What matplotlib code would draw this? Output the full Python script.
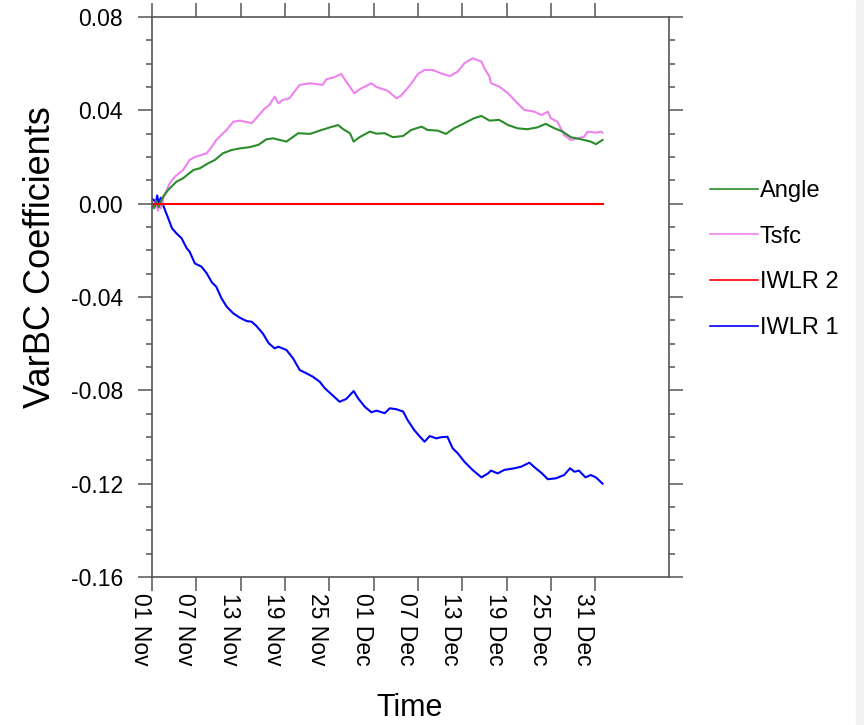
import numpy as np
import pandas as pd
import matplotlib
matplotlib.use("Agg")
import matplotlib.pyplot as plt
from matplotlib.lines import Line2D
from matplotlib.patches import Rectangle
from matplotlib.ticker import MultipleLocator, FormatStrFormatter

# ---------------- data (days since 01 Nov, coefficient value) ----------------
start_date = "2015-11-01"

angle_day = [0, 0.3, 0.6, 0.9, 1.2, 1.5, 2.2, 3.3, 4.2, 5.6, 6.5, 7.6, 8.5, 9.6, 10.8,
             11.9, 13.2, 14.4, 15.5, 16.4, 18.2, 19.8, 21.4, 22.7, 24.1, 25.2, 25.9,
             26.8, 27.3, 28.1, 29.5, 30.4, 31.5, 32.6, 34.0, 35.1, 36.5, 37.3, 38.7,
             39.8, 40.9, 42.3, 43.6, 44.6, 45.7, 47.0, 48.2, 49.5, 50.8, 52.2, 53.3,
             54.5, 55.6, 56.7, 58.1, 59.4, 60.1, 61.0]
angle_val = [0.0, -0.002, 0.001, -0.0015, 0.001, 0.003, 0.0059, 0.0094, 0.0109, 0.0144,
             0.0152, 0.0173, 0.0187, 0.0216, 0.0230, 0.0237, 0.0242, 0.0252, 0.0276,
             0.0280, 0.0266, 0.0302, 0.0299, 0.0313, 0.0327, 0.0337, 0.0319, 0.0302,
             0.0266, 0.0285, 0.0309, 0.0300, 0.0302, 0.0285, 0.0290, 0.0316, 0.0330,
             0.0316, 0.0313, 0.0299, 0.0323, 0.0345, 0.0366, 0.0376, 0.0356, 0.0359,
             0.0337, 0.0323, 0.0319, 0.0327, 0.0342, 0.0323, 0.0309, 0.0285, 0.0276,
             0.0266, 0.0255, 0.0273]

tsfc_day = [0, 0.3, 0.5, 0.8, 1.0, 1.2, 1.5, 1.8, 2.4, 3.1, 4.2, 5.1, 5.8, 7.4, 8.1, 8.7,
            10.1, 11.0, 11.9, 13.5, 14.1, 15.3, 15.9, 16.6, 17.1, 17.7, 18.6, 19.1, 20.0,
            21.4, 23.1, 23.6, 24.7, 25.6, 26.3, 27.4, 28.1, 29.7, 30.4, 31.9, 33.1, 33.7,
            34.6, 35.3, 36.0, 36.9, 38.0, 39.1, 40.3, 41.4, 42.3, 43.4, 44.6, 45.0, 45.7,
            45.9, 47.0, 48.2, 49.5, 50.4, 51.8, 52.7, 53.6, 54.0, 54.9, 55.8, 56.7, 57.6,
            58.5, 59.0, 60.1, 60.8, 61.0]
tsfc_val = [0.0, -0.0015, 0.001, -0.003, 0.0, -0.002, 0.002, 0.0045, 0.0087, 0.0116,
            0.0144, 0.0187, 0.0200, 0.0216, 0.0244, 0.0273, 0.0316, 0.0351, 0.0356,
            0.0345, 0.0366, 0.0409, 0.0423, 0.0459, 0.0430, 0.0444, 0.0452, 0.0473,
            0.0509, 0.0516, 0.0509, 0.0533, 0.0542, 0.0556, 0.0523, 0.0473, 0.0490,
            0.0516, 0.0500, 0.0484, 0.0452, 0.0462, 0.0495, 0.0523, 0.0556, 0.0573,
            0.0573, 0.0559, 0.0547, 0.0566, 0.0602, 0.0623, 0.0609, 0.0580, 0.0544,
            0.0516, 0.0502, 0.0473, 0.0430, 0.0402, 0.0394, 0.0380, 0.0394, 0.0366,
            0.0351, 0.0294, 0.0273, 0.0280, 0.0287, 0.0309, 0.0304, 0.0309, 0.0304]

iwlr2_day = [0, 61.0]
iwlr2_val = [0.0, 0.0]

iwlr1_day = [0, 0.3, 0.5, 0.7, 0.9, 1.2, 1.5, 2.2, 2.7, 3.3, 4.0, 4.7, 5.1, 5.8, 6.7, 7.4,
             8.1, 8.7, 9.4, 10.1, 11.0, 11.9, 12.8, 13.5, 14.1, 15.0, 15.8, 16.6, 17.1,
             18.2, 19.1, 20.0, 20.9, 21.8, 22.7, 23.4, 24.3, 25.4, 26.3, 27.3, 27.9, 28.8,
             29.7, 30.4, 31.5, 32.2, 33.1, 34.0, 34.6, 35.5, 36.2, 36.9, 37.6, 38.5, 39.1,
             40.0, 40.7, 41.4, 42.3, 43.4, 44.6, 45.5, 45.9, 46.8, 47.7, 49.1, 50.0, 51.1,
             51.8, 52.7, 53.6, 54.7, 55.8, 56.6, 57.2, 57.8, 58.7, 59.4, 60.1, 61.0]
iwlr1_val = [0.002, 0.0015, -0.0005, 0.0035, 0.0005, 0.0025, -0.0006, -0.0063, -0.0105,
             -0.0127, -0.0148, -0.0191, -0.0206, -0.0256, -0.0270, -0.0298, -0.0337,
             -0.0356, -0.0405, -0.0441, -0.0470, -0.0489, -0.0503, -0.0506, -0.0523,
             -0.0556, -0.0598, -0.0620, -0.0613, -0.0627, -0.0663, -0.0713, -0.0727,
             -0.0742, -0.0763, -0.0791, -0.0817, -0.0849, -0.0837, -0.0803, -0.0834,
             -0.0870, -0.0894, -0.0887, -0.0898, -0.0877, -0.0881, -0.0891, -0.0927,
             -0.0970, -0.0996, -0.1020, -0.0996, -0.1006, -0.1001, -0.0999, -0.1048,
             -0.1070, -0.1106, -0.1141, -0.1173, -0.1156, -0.1144, -0.1156, -0.1141,
             -0.1134, -0.1127, -0.1110, -0.1130, -0.1153, -0.1181, -0.1177, -0.1163,
             -0.1134, -0.1149, -0.1144, -0.1173, -0.1163, -0.1173, -0.1200]

tick_days = [0, 6, 12, 18, 24, 30, 36, 42, 48, 54, 60]
tick_labels = ["01 Nov", "07 Nov", "13 Nov", "19 Nov", "25 Nov", "01 Dec",
               "07 Dec", "13 Dec", "19 Dec", "25 Dec", "31 Dec"]
x_span_days = 70

series_names = ["Angle", "Tsfc", "IWLR 2", "IWLR 1"]
series_colors = ["#2a8c2a", "#ee82ee", "#ff0000", "#0000ff"]

# ---------------- drawing ----------------
plt.rcParams["font.family"] = ["Liberation Sans", "DejaVu Sans"]

base = pd.Timestamp(start_date)


def to_dates(days):
    return base + pd.to_timedelta(np.asarray(days, dtype=float), unit="D")


fig = plt.figure(figsize=(8.64, 7.25), dpi=100)
W, H = 864.0, 725.0
ax = fig.add_axes([152 / W, 1 - 577 / H, (669 - 152) / W, (577 - 17) / H])

lw = 1.5
ax.plot(to_dates(iwlr1_day), iwlr1_val, color=series_colors[3], lw=lw)
ax.plot(to_dates(tsfc_day), tsfc_val, color=series_colors[1], lw=lw)
ax.plot(to_dates(angle_day), angle_val, color=series_colors[0], lw=lw)
ax.plot(to_dates(iwlr2_day), iwlr2_val, color=series_colors[2], lw=lw)

ax.set_xlim(to_dates([0])[0], to_dates([x_span_days])[0])
ax.set_ylim(-0.16, 0.08)

ax.yaxis.set_major_locator(MultipleLocator(0.04))
ax.yaxis.set_minor_locator(MultipleLocator(0.01))
ax.yaxis.set_major_formatter(FormatStrFormatter("%.2f"))

ax.set_xticks(to_dates(tick_days))
ax.set_xticklabels(tick_labels, rotation=270, ha="right", va="top")
ax.xaxis.set_minor_locator(matplotlib.ticker.NullLocator())

axis_col = "#555555"
for sp in ax.spines.values():
    sp.set_color(axis_col)
    sp.set_linewidth(1.2)

ax.tick_params(axis="both", which="both", direction="out", top=True, right=True,
               color=axis_col, width=1.1, labelsize=16.5)
ax.tick_params(axis="both", which="major", length=10)
ax.tick_params(axis="y", which="minor", length=4.5)
ax.tick_params(axis="y", which="major", pad=11)
ax.tick_params(axis="x", which="major", pad=1.5)

fig.text(41 / W, 1 - 257 / H, "VarBC Coefficients", rotation=90, fontsize=26,
         ha="center", va="center")
fig.text(410 / W, 1 - 708 / H, "Time", fontsize=22, ha="center", va="center")

handles = [Line2D([], [], color=c, lw=1.2) for c in series_colors]
fig.legend(handles, series_names, loc="upper left",
           bbox_to_anchor=(710 / W, 1 - 180 / H), frameon=False, fontsize=17,
           handlelength=2.05, handletextpad=0.05, labelspacing=1.0,
           borderpad=0, borderaxespad=0)

fig.patches.append(Rectangle((856 / W, 0), 8 / W, 1, transform=fig.transFigure,
                             color="#f2f2f2", zorder=-1))

fig.savefig("out.png", dpi=100, facecolor="white")
